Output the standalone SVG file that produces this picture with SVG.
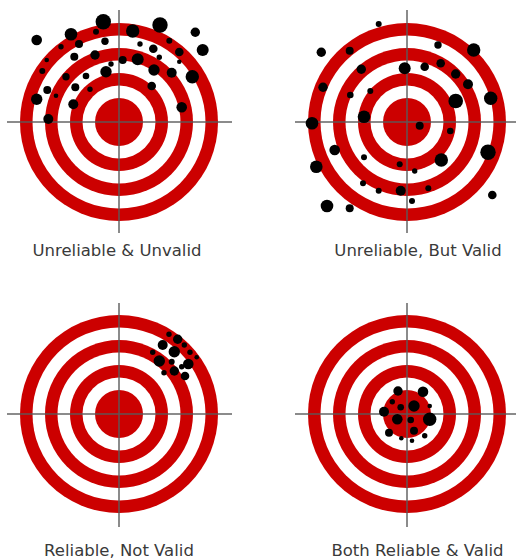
<svg xmlns="http://www.w3.org/2000/svg" width="516" height="560" viewBox="0 0 516 560">
<style>
.r{fill:#cc0000}
.w{fill:#ffffff}
.x{stroke:#5a5a5a;stroke-width:2;stroke-opacity:0.7}
.d{fill:#000000}
.lbl{font-family:"DejaVu Sans","Liberation Sans",sans-serif;font-size:16.5px;fill:#3a3a3a;text-anchor:middle}
</style>
<defs>
<g id="target">
<circle class="r" r="99"/>
<circle class="w" r="86.5"/>
<circle class="r" r="74"/>
<circle class="w" r="61.5"/>
<circle class="r" r="49"/>
<circle class="w" r="36.5"/>
<circle class="r" r="24"/>
</g>
</defs>
<rect width="516" height="560" fill="#ffffff"/>

<g id="unreliable-unvalid">
<use href="#target" x="119" y="122"/>
<line class="x" x1="7" y1="122" x2="232" y2="122"/>
<line class="x" x1="119" y1="10" x2="119" y2="233"/>
<g class="d">
<circle cx="36.7" cy="40" r="5.3"/><circle cx="71" cy="34.3" r="6.3"/><circle cx="103.3" cy="21.7" r="7.7"/><circle cx="96" cy="31.7" r="3"/>
<circle cx="132.7" cy="31" r="6.7"/><circle cx="160" cy="25" r="7.7"/><circle cx="195.3" cy="32.3" r="4.7"/><circle cx="202.7" cy="50" r="6"/>
<circle cx="79" cy="44" r="4"/><circle cx="61" cy="46.7" r="2.7"/><circle cx="105" cy="41.3" r="3.7"/><circle cx="140" cy="44" r="2.7"/>
<circle cx="153.3" cy="48.7" r="4.3"/><circle cx="169.3" cy="40.7" r="3"/><circle cx="179.3" cy="52" r="4.3"/><circle cx="46.7" cy="60" r="2.3"/>
<circle cx="74.3" cy="56.7" r="4"/><circle cx="95" cy="55" r="4.7"/><circle cx="122.7" cy="60" r="4"/><circle cx="137.7" cy="59.3" r="6"/>
<circle cx="159.3" cy="57.3" r="2.7"/><circle cx="179.3" cy="61.7" r="2.3"/><circle cx="111" cy="64" r="2.7"/><circle cx="42.3" cy="71" r="3"/>
<circle cx="66" cy="76.7" r="3.7"/><circle cx="86" cy="76" r="3.3"/><circle cx="106" cy="71.7" r="5.7"/><circle cx="154" cy="70" r="5.7"/>
<circle cx="171.7" cy="72.7" r="5"/><circle cx="192.3" cy="76.7" r="6.7"/><circle cx="47.3" cy="90" r="4"/><circle cx="75.3" cy="87.3" r="4"/>
<circle cx="90" cy="89.3" r="2.7"/><circle cx="56" cy="95.7" r="2.3"/><circle cx="151.7" cy="86" r="4.3"/><circle cx="36.7" cy="99.3" r="5.7"/>
<circle cx="73.3" cy="104.3" r="5"/><circle cx="181.7" cy="107.3" r="5.3"/><circle cx="48.3" cy="119" r="5"/>
</g>
<text class="lbl" x="117" y="256">Unreliable &amp; Unvalid</text>
</g>

<g id="unreliable-but-valid">
<use href="#target" x="407" y="122"/>
<line class="x" x1="295" y1="122" x2="516" y2="122"/>
<line class="x" x1="407" y1="10" x2="407" y2="233"/>
<g class="d">
<circle cx="378.7" cy="24" r="3"/><circle cx="321.3" cy="52.3" r="4.7"/><circle cx="349.7" cy="50.7" r="4"/><circle cx="438" cy="45" r="3.7"/>
<circle cx="473.7" cy="50" r="6.7"/><circle cx="361.3" cy="69.3" r="4.7"/><circle cx="404.7" cy="68.3" r="6"/><circle cx="424.7" cy="66.7" r="4.3"/>
<circle cx="440.7" cy="63.3" r="4.3"/><circle cx="455.7" cy="74" r="4.7"/><circle cx="468" cy="84.3" r="5"/><circle cx="323" cy="87.3" r="4.7"/>
<circle cx="370.3" cy="91" r="3"/><circle cx="350.3" cy="95" r="3.3"/><circle cx="455.7" cy="101" r="7.3"/><circle cx="490.7" cy="98.3" r="6.7"/>
<circle cx="364" cy="116.7" r="6.3"/><circle cx="312" cy="123.3" r="6.3"/><circle cx="419.7" cy="125.7" r="4"/><circle cx="450.3" cy="131" r="3.3"/>
<circle cx="334.7" cy="150" r="5.3"/><circle cx="488" cy="152.3" r="7.7"/><circle cx="441.3" cy="160" r="6.7"/><circle cx="364" cy="157.3" r="3"/>
<circle cx="316.3" cy="166.7" r="6.3"/><circle cx="399.7" cy="164.3" r="3"/><circle cx="414.7" cy="171" r="2.7"/><circle cx="363" cy="183.3" r="3"/>
<circle cx="378.7" cy="190.7" r="3"/><circle cx="400.7" cy="190.7" r="5"/><circle cx="428.3" cy="188.3" r="3"/><circle cx="492.3" cy="195" r="4.3"/>
<circle cx="327" cy="206" r="6.3"/><circle cx="349.7" cy="208.3" r="4"/><circle cx="412" cy="201" r="3"/>
</g>
<text class="lbl" x="418" y="256">Unreliable, But Valid</text>
</g>

<g id="reliable-not-valid">
<use href="#target" x="119" y="414"/>
<line class="x" x1="7" y1="414" x2="232" y2="414"/>
<line class="x" x1="119" y1="303" x2="119" y2="527"/>
<g class="d">
<circle cx="169" cy="334.3" r="2.7"/><circle cx="177.7" cy="339.3" r="4.7"/><circle cx="162.7" cy="345" r="5"/><circle cx="184.3" cy="345" r="2.7"/>
<circle cx="174.3" cy="351.7" r="5.7"/><circle cx="190" cy="352.3" r="2.7"/><circle cx="152.7" cy="352.3" r="2.7"/><circle cx="196.7" cy="357.3" r="2.3"/>
<circle cx="159.3" cy="361" r="5.7"/><circle cx="171.7" cy="361.7" r="3"/><circle cx="188.3" cy="364" r="5.3"/><circle cx="181.7" cy="366.7" r="2.7"/>
<circle cx="164" cy="372.7" r="2.7"/><circle cx="174.3" cy="371" r="4.7"/><circle cx="185" cy="376" r="4.3"/>
</g>
<text class="lbl" x="119" y="556">Reliable, Not Valid</text>
</g>

<g id="reliable-and-valid">
<use href="#target" x="407" y="414"/>
<line class="x" x1="295" y1="414" x2="516" y2="414"/>
<line class="x" x1="407" y1="303" x2="407" y2="527"/>
<g class="d">
<circle cx="398" cy="391" r="4.7"/><circle cx="423" cy="391.7" r="5.3"/><circle cx="392.3" cy="401.7" r="2.7"/><circle cx="414" cy="406" r="5.7"/>
<circle cx="400.7" cy="407.3" r="3.3"/><circle cx="429.7" cy="406" r="2.3"/><circle cx="384" cy="411.7" r="5"/><circle cx="397.3" cy="419.3" r="5.3"/>
<circle cx="410.7" cy="420" r="3.3"/><circle cx="429.7" cy="419.3" r="6.7"/><circle cx="389" cy="432.7" r="4"/><circle cx="414" cy="430.7" r="4"/>
<circle cx="424.7" cy="435.7" r="2.7"/><circle cx="401.3" cy="438.3" r="2.3"/><circle cx="412" cy="440.7" r="2.3"/>
</g>
<text class="lbl" x="417.5" y="556">Both Reliable &amp; Valid</text>
</g>
</svg>
